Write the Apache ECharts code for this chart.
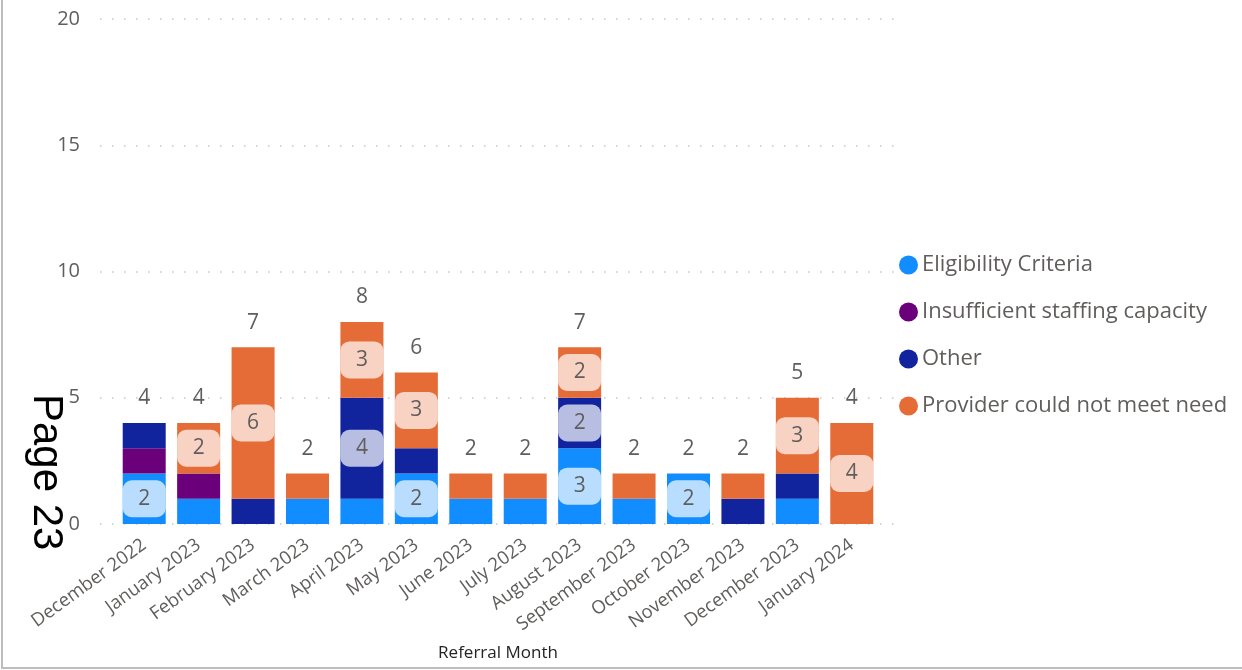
<!DOCTYPE html>
<html>
<head>
<meta charset="utf-8">
<script src="https://cdn.jsdelivr.net/npm/echarts@6/dist/echarts.min.js"></script>
<style>
  html, body { margin: 0; padding: 0; background: #fff; }
  #chart { width: 1242px; height: 670px; }
</style>
</head>
<body>
<div id="chart"></div>
<script>
// 类目：转介月份
var months = [
  'December 2022', 'January 2023', 'February 2023', 'March 2023', 'April 2023',
  'May 2023', 'June 2023', 'July 2023', 'August 2023', 'September 2023',
  'October 2023', 'November 2023', 'December 2023', 'January 2024'
]
var eligibility = [2, 1, 0, 1, 1, 2, 1, 1, 3, 1, 2, 0, 1, 0]
var staffing = [1, 1, 0, 0, 0, 0, 0, 0, 0, 0, 0, 0, 0, 0]
var other = [1, 0, 1, 0, 4, 1, 0, 0, 2, 0, 0, 1, 1, 0]
var provider = [0, 2, 6, 1, 3, 3, 1, 1, 2, 1, 0, 1, 3, 4]
var yTicks = [0, 5, 10, 15, 20]

var font = "'Segoe UI', 'Open Sans', 'Noto Sans', sans-serif"
var grey = '#605E5C'

// 合计，放在柱子上方
var totals = months.map(function(m, i) {
  return eligibility[i] + staffing[i] + other[i] + provider[i]
})

function seg(name, arr, color) {
  return {
    name: name,
    type: 'bar',
    stack: 'all',
    xAxisIndex: 1,
    yAxisIndex: 1,
    barWidth: 43,
    itemStyle: { color: color },
    label: {
      position: 'inside',
      color: grey,
      fontFamily: font,
      fontSize: 21,
      width: 43,
      height: 37,
      lineHeight: 37,
      align: 'center',
      verticalAlign: 'middle',
      backgroundColor: 'rgba(255,255,255,0.7)',
      borderRadius: 9
    },
    // 小于2的不显示标签
    data: arr.map(function(v) {
      return { value: v, label: { show: v >= 2 } }
    })
  }
}

var myChart = echarts.init(document.getElementById('chart'))
myChart.setOption({
  animation: false,
  textStyle: { fontFamily: font },
  grid: [
    { left: 100, right: 345, top: 19, bottom: 146 },
    { left: 117, right: 363, top: 19, bottom: 146 }
  ],
  legend: {
    orient: 'vertical',
    left: 894,
    top: 245,
    icon: 'circle',
    itemWidth: 19,
    itemHeight: 19,
    itemGap: 17,
    textStyle: { color: grey, fontSize: 22, lineHeight: 30, fontFamily: font, padding: [0, 0, 0, -1] },
    data: ['Eligibility Criteria', 'Insufficient staffing capacity', 'Other', 'Provider could not meet need']
  },
  xAxis: [
    { gridIndex: 0, type: 'category', data: months, show: false },
    {
      gridIndex: 1,
      type: 'category',
      data: months,
      name: 'Referral Month',
      nameLocation: 'middle',
      nameGap: 121,
      nameTextStyle: { color: '#252423', fontSize: 17, fontFamily: font },
      axisLine: { show: false },
      axisTick: { show: false },
      axisLabel: {
        interval: 0,
        rotate: 36,
        margin: 19,
        color: grey,
        fontSize: 18.5,
        fontFamily: font
      }
    }
  ],
  yAxis: [
    {
      gridIndex: 0,
      type: 'value',
      min: yTicks[0],
      max: yTicks[yTicks.length - 1],
      interval: 5,
      axisLine: { show: false },
      axisTick: { show: false },
      axisLabel: { color: grey, fontSize: 20, margin: 20, fontFamily: font },
      splitLine: { lineStyle: { color: '#C8C6C4', type: [1.5, 10.5], width: 1.5 } }
    },
    {
      gridIndex: 1,
      type: 'value',
      min: yTicks[0],
      max: yTicks[yTicks.length - 1],
      interval: 5,
      show: false,
      splitLine: { show: false }
    }
  ],
  series: [
    seg('Eligibility Criteria', eligibility, '#118DFF'),
    seg('Insufficient staffing capacity', staffing, '#6B007B'),
    seg('Other', other, '#12239E'),
    seg('Provider could not meet need', provider, '#E66C37'),
    {
      name: 'total',
      type: 'bar',
      xAxisIndex: 1,
      yAxisIndex: 1,
      barWidth: 43,
      barGap: '-100%',
      z: 1,
      itemStyle: { color: 'rgba(0,0,0,0)' },
      label: {
        show: true,
        position: 'top',
        distance: 14,
        color: grey,
        fontSize: 21,
        fontFamily: font
      },
      tooltip: { show: false },
      data: totals
    }
  ],
  graphic: [
    {
      type: 'text',
      left: 25,
      top: 394,
      rotation: -Math.PI / 2,
      style: { text: 'Page 23', fill: '#000', fontSize: 42, fontFamily: "'Liberation Sans', Arial, sans-serif" }
    },
    { type: 'rect', left: 1, top: 0, shape: { width: 2, height: 669 }, style: { fill: '#BDBDBD' } },
    { type: 'rect', left: 1, top: 667, shape: { width: 1241, height: 2 }, style: { fill: '#BDBDBD' } }
  ]
})
</script>
</body>
</html>
